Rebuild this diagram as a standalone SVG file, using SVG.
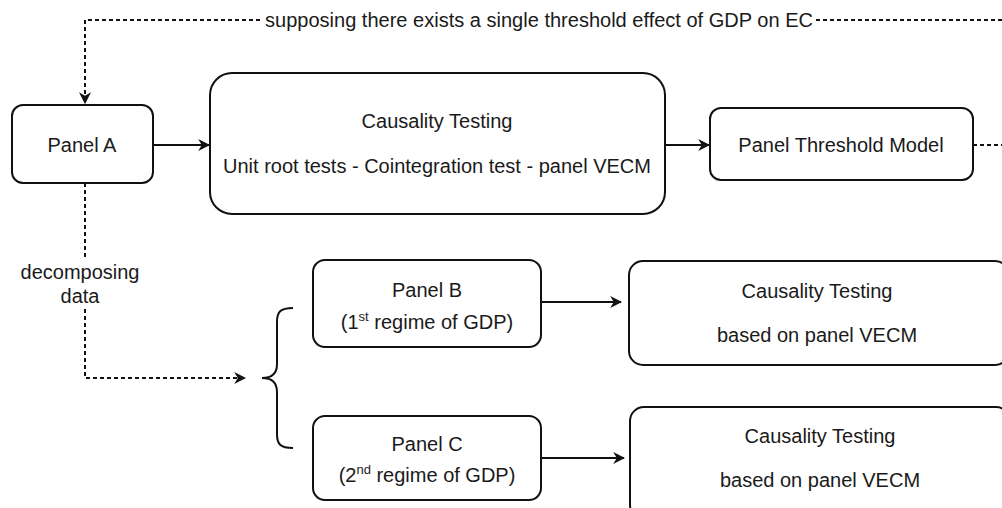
<svg xmlns="http://www.w3.org/2000/svg" width="1002" height="508" viewBox="0 0 1002 508">
<style>
.box{fill:#fff;stroke:#111;stroke-width:2}
.t{font-family:"Liberation Sans",Arial,sans-serif;font-size:20px;fill:#1a1a1a;text-anchor:middle}
.ln{fill:none;stroke:#111;stroke-width:2}
.dash{fill:none;stroke:#111;stroke-width:2;stroke-dasharray:4 3}
</style>
<defs>
<marker id="ah" viewBox="0 0 10 10" refX="9" refY="5" markerWidth="12" markerHeight="12" markerUnits="userSpaceOnUse" orient="auto">
<path d="M0,0 L10,5 L0,10 L3,5 z" fill="#111"/>
</marker>
</defs>
<rect width="1002" height="508" fill="#fff"/>
<g id="connectors">
<path class="dash" d="M1002,20 H85 V103" marker-end="url(#ah)"/>
<rect x="263" y="9" width="551" height="22" fill="#fff"/>
<text class="t" x="539" y="27" textLength="548" lengthAdjust="spacingAndGlyphs">supposing there exists a single threshold effect of GDP on EC</text>
<path class="ln" d="M153,145 H209" marker-end="url(#ah)"/>
<path class="ln" d="M665,145 H709" marker-end="url(#ah)"/>
<path class="dash" d="M973,145 H1002"/>
<path class="dash" d="M85,183 V378 H245" marker-end="url(#ah)"/>
<rect x="18" y="258" width="126" height="50" fill="#fff"/>
<text class="t" x="80" y="279">decomposing</text>
<text class="t" x="80" y="303">data</text>
<path class="ln" d="M293,308 C280,308 277,312 277,322 V364 C277,373 272,378 262,378 C272,378 277,383 277,392 V434 C277,444 280,448 293,448"/>
<path class="ln" d="M541,302 H621" marker-end="url(#ah)"/>
<path class="ln" d="M541,458 H624" marker-end="url(#ah)"/>
</g>
<g id="panelA">
<rect class="box" x="12" y="105" width="141" height="78" rx="11"/>
<text class="t" x="82" y="152">Panel A</text>
</g>
<g id="causality">
<rect class="box" x="210" y="73" width="455" height="141" rx="22"/>
<text class="t" x="437" y="128">Causality Testing</text>
<text class="t" x="437" y="173">Unit root tests - Cointegration test - panel VECM</text>
</g>
<g id="threshold">
<rect class="box" x="710" y="108" width="263" height="72" rx="11"/>
<text class="t" x="841" y="152">Panel Threshold Model</text>
</g>
<g id="panelB">
<rect class="box" x="313" y="260" width="228" height="87" rx="12"/>
<text class="t" x="427" y="297">Panel B</text>
<text class="t" x="427" y="329">(1<tspan font-size="13" dy="-8">st</tspan><tspan dy="8"> regime of GDP)</tspan></text>
</g>
<g id="panelC">
<rect class="box" x="313" y="416" width="228" height="84" rx="12"/>
<text class="t" x="427" y="451">Panel C</text>
<text class="t" x="427" y="482">(2<tspan font-size="13" dy="-8">nd</tspan><tspan dy="8"> regime of GDP)</tspan></text>
</g>
<g id="causalityB">
<rect class="box" x="629" y="261" width="380" height="104" rx="14"/>
<text class="t" x="817" y="298">Causality Testing</text>
<text class="t" x="817" y="342">based on panel VECM</text>
</g>
<g id="causalityC">
<rect class="box" x="630" y="407" width="380" height="112" rx="14"/>
<text class="t" x="820" y="443">Causality Testing</text>
<text class="t" x="820" y="487">based on panel VECM</text>
</g>
</svg>
